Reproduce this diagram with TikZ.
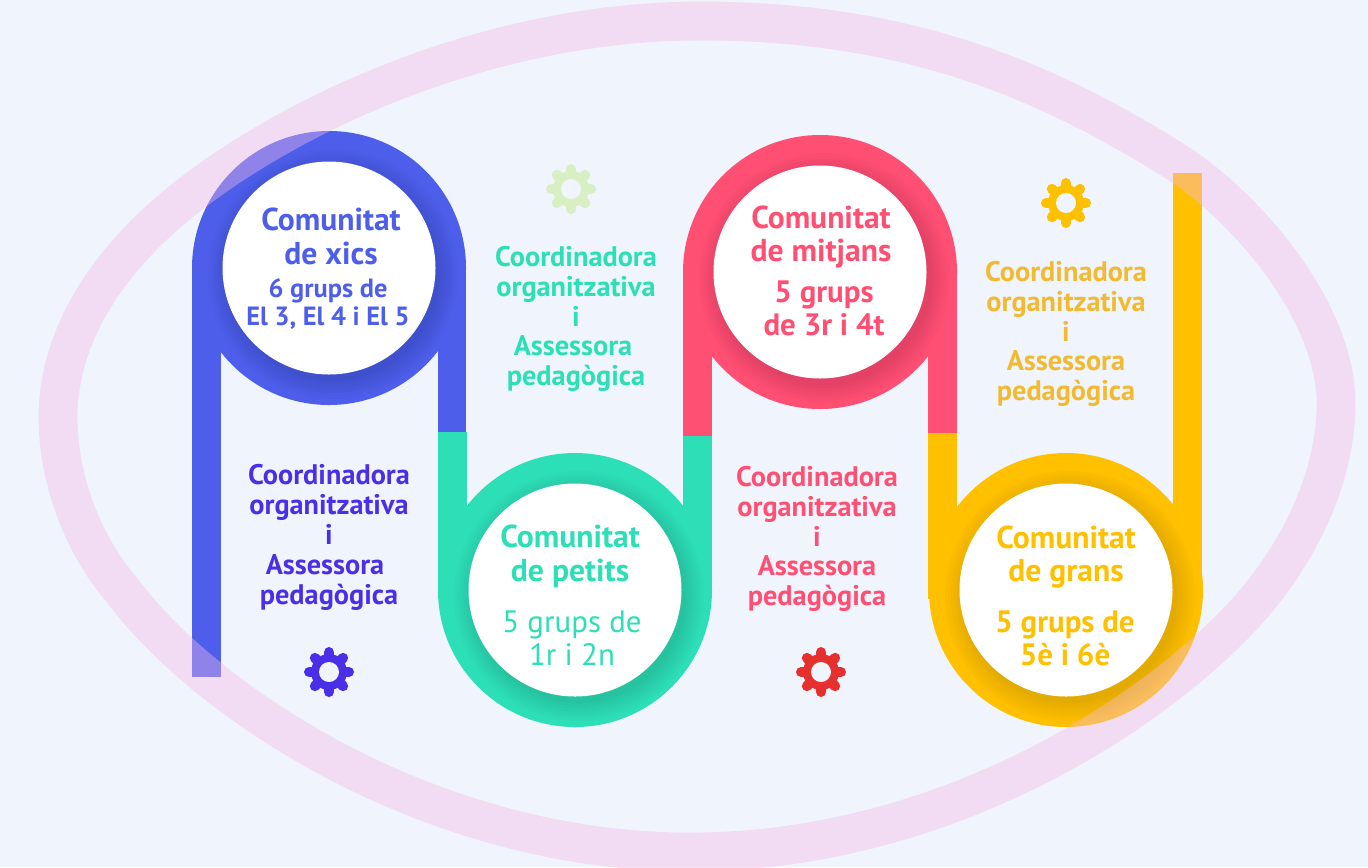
\documentclass[tikz,border=0pt]{standalone}
\usepackage{fontspec}
\setmainfont{PT Sans}
\usepackage{xcolor}
\definecolor{fons}{HTML}{F0F4FD}
\definecolor{banda}{RGB}{244,186,228}
\definecolor{blau}{HTML}{4D5EEB}
\definecolor{verd}{HTML}{2DDFB6}
\definecolor{rosa}{HTML}{FF4F73}
\definecolor{groc}{HTML}{FFC000}
\definecolor{lila}{HTML}{4A2FE6}
\definecolor{vermell}{HTML}{E5302E}
\definecolor{verdclar}{HTML}{D8EFC4}
\definecolor{daurat}{HTML}{F2BA30}
\tikzset{
  titol/.style={align=center,inner sep=0pt,font=\fontsize{18}{19}\selectfont\bfseries},
  grups/.style={align=center,inner sep=0pt,font=\fontsize{17.6}{18.7}\selectfont\bfseries},
  lateral/.style={align=center,inner sep=0pt,font=\fontsize{16.1}{17}\selectfont\bfseries}
}
\newcommand{\engranatge}[3]{%
  \fill[#3] (#1,#2) circle (18);
  \foreach \a in {0,45,...,315}
    \draw[#3,line width=5.8pt,line cap=round] (#1,#2) ++(\a:14.5) -- ++(\a:5.4);
  \fill[fons] (#1,#2) circle (10);
}
\newcommand{\anella}[3]{%
  \fill[#3] (#1,#2) circle (137);
  \begin{scope}
    \clip (#1,#2) circle (137);
    \foreach \r in {125,122,...,107}
      \fill[black,opacity=.016] (#1+4,#2+6) circle (\r);
  \end{scope}
  \fill[white] (#1,#2) circle (106.5);
}

\begin{document}
\begin{tikzpicture}[x=0.02cm,y=-0.02cm]
\useasboundingbox (0,0) rectangle (1368,867);
\fill[fons] (0,0) rectangle (1368,867);

% trams verticals
\fill[blau] (192,268) rectangle (221,677);
\fill[blau] (438,268) rectangle (466,432);
\fill[rosa] (683,272) rectangle (712,436);
\fill[rosa] (928,272) rectangle (957,433);
\fill[verd] (438,432) rectangle (467,590);
\fill[verd] (683,436) rectangle (712,590);
\fill[groc] (928,433) rectangle (957,599);
\fill[groc] (1173,173) rectangle (1202,590);

% cercles
\anella{329}{268}{blau}
\anella{575}{590}{verd}
\anella{820}{272}{rosa}
\anella{1066}{590}{groc}

% banda de fons
\clip (0,0) rectangle (1368,867);
\draw[banda,opacity=.4,line width=22.1pt] (700,21)
  .. controls (900,21) and (1037,75) .. (1173,160)
  .. controls (1249,208) and (1336,313) .. (1336,403)
  .. controls (1336,483) and (1294,562) .. (1239,620)
  .. controls (1135,728) and (930,852) .. (690,852)
  .. controls (430,852) and (205,702) .. (122,590)
  .. controls (82,544) and (58,478) .. (58,417)
  .. controls (58,355) and (88,296) .. (130,250)
  .. controls (215,152) and (450,21) .. (700,21) -- cycle;

% engranatges
\engranatge{329}{672}{lila}
\engranatge{571}{189}{verdclar}
\engranatge{821}{672}{vermell}
\engranatge{1066}{203}{groc}

\node[titol,text=blau] (xics) at (331,236.5) {Comunitat\\de xics};
\node[grups,text=blau,font=\fontsize{15}{15.9}\selectfont\bfseries] (xicsGrups) at (328,304) {6 grups de\\El 3, El 4 i El 5};
\node[titol,text=verd] (petits) at (570,556.5) {Comunitat\\de petits};
\node[grups,text=verd,font=\fontsize{17.6}{18.7}\selectfont] (petitsGrups) at (572,638) {5 grups de\\1r i 2n};
\node[titol,text=rosa] (mitjans) at (821,237) {Comunitat\\de mitjans};
\node[grups,text=rosa] (mitjansGrups) at (824,308) {5 grups\\de 3r i 4t};
\node[titol,text=groc] (grans) at (1066,557) {Comunitat\\de grans};
\node[grups,text=groc] (gransGrups) at (1065,638) {5 grups de\\5è i 6è};

\node[lateral,text=lila] (coordXics) at (329,537.5) {Coordinadora\\organitzativa\\i\\Assessora\rule{4.5pt}{0pt}\\pedagògica};
\node[lateral,text=verd] (coordPetits) at (576,319) {Coordinadora\\organitzativa\\i\\Assessora\rule{3.4pt}{0pt}\\pedagògica};
\node[lateral,text=rosa] (coordMitjans) at (817,539) {Coordinadora\\organitzativa\\i\\Assessora\\pedagògica};
\node[lateral,text=daurat] (coordGrans) at (1066,334) {Coordinadora\\organitzativa\\i\\Assessora\\pedagògica};

\end{tikzpicture}
\end{document}
